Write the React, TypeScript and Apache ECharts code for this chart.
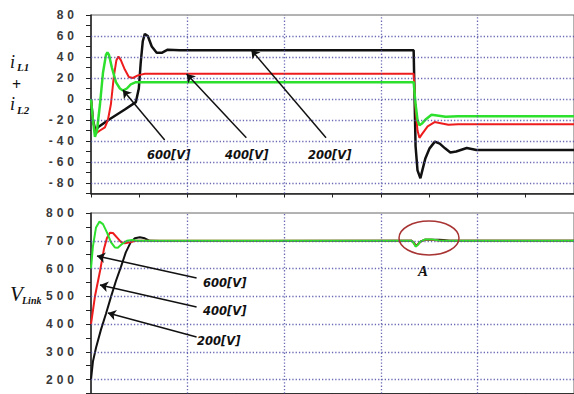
import React, { useEffect, useRef } from "react";
import * as echarts from "echarts";

// Shared time axis: five major divisions, half-division ticks
const T_MIN = 0;
const T_MAX = 5;

// Upper panel: iL1 + iL2 for three initial link voltages
const tI600 = [0, 0.02, 0.041, 0.062, 0.093, 0.124, 0.155, 0.17, 0.186, 0.216, 0.258, 0.299, 0.33, 0.371, 0.412, 0.464, 0.557, 3.34, 3.36, 3.38, 3.4, 3.43, 3.47, 3.525, 3.6, 3.67, 3.8, 5];
const iL600 = [0, -20, -36, -30, -5, 25, 42, 44.5, 42, 30, 16, 10, 8, 10, 14, 16, 16, 16, -5, -20, -25, -23, -19, -15, -16, -17, -16.5, -16.5];

const tI400 = [0, 0.02, 0.046, 0.093, 0.144, 0.175, 0.206, 0.237, 0.263, 0.284, 0.309, 0.35, 0.392, 0.433, 0.485, 0.557, 3.34, 3.36, 3.38, 3.4, 3.43, 3.485, 3.557, 3.62, 3.7, 3.8, 5];
const iL400 = [0, -20, -33, -30, -27, -20, -5, 22, 37, 40.5, 37, 28, 21, 20, 22.5, 24, 24, -10, -30, -37, -33, -26, -22, -23, -24.5, -24, -24];

const tI200 = [0, 0.02, 0.046, 0.072, 0.196, 0.35, 0.464, 0.495, 0.515, 0.536, 0.557, 0.588, 0.629, 0.68, 0.732, 0.794, 0.918, 3.34, 3.35, 3.36, 3.38, 3.41, 3.43, 3.46, 3.505, 3.56, 3.61, 3.665, 3.72, 3.78, 3.89, 3.99, 5];
const iL200 = [0, -20, -30, -27, -19, -10, -3, 10, 35, 55, 62, 60, 50, 44, 44, 47, 46.5, 46.5, 0, -45, -68, -75.5, -68, -57, -47, -40.6, -42.5, -47, -51, -50, -46.7, -48.5, -48.5];

// Lower panel: V_Link for the three starting voltages
const tV600 = [0, 0.02, 0.052, 0.088, 0.124, 0.165, 0.206, 0.247, 0.278, 0.32, 0.371, 0.423, 0.485, 3.32, 3.34, 3.36, 3.38, 3.41, 3.46, 3.525, 3.6, 3.67, 5];
const vL600 = [600, 680, 748, 769, 760, 730, 695, 676, 675, 688, 700, 703, 700, 700, 692, 679, 684, 697, 705, 705, 701, 700, 700];

const tV400 = [0, 0.041, 0.093, 0.134, 0.165, 0.196, 0.227, 0.268, 0.309, 0.35, 0.402, 0.464, 3.32, 3.34, 3.36, 3.38, 3.41, 3.46, 3.525, 3.6, 3.67, 5];
const vL400 = [400, 500, 590, 670, 710, 729, 728, 712, 696, 691, 695, 700, 700, 693, 681, 685, 697, 704, 704, 701, 700, 700];

const tV200 = [0, 0.02, 0.052, 0.103, 0.155, 0.206, 0.258, 0.309, 0.36, 0.412, 0.454, 0.505, 0.557, 0.608, 0.711, 3.32, 3.34, 3.36, 3.38, 3.41, 3.46, 3.525, 3.6, 3.65, 3.71, 5];
const vL200 = [200, 265, 315, 380, 437, 497, 555, 605, 658, 695, 709, 712.5, 709, 700, 699, 700, 694, 684, 686, 697, 704, 704, 703.5, 703, 700, 700];

// Axis ranges, tick steps and dotted grid positions
const iRange = [-90, 80];
const iStep = 10;
const iLabelStep = 20;
const iGrid = [-80, -60, -40, -20, 0, 20, 40, 60];
const vRange = [150, 800];
const vStep = 50;
const vLabelStep = 100;
const vGrid = [200, 300, 400, 500, 600, 700];
const tGrid = [1, 2, 3, 4];

// Annotation arrows (tail -> head), in data coordinates
const arrowLabels = ["600[V]", "400[V]", "200[V]"];
const iArrowTail = [[0.763, -39], [1.608, -37], [2.433, -37]];
const iArrowHead = [[0.33, 8.6], [0.99, 23.8], [1.66, 46.7]];
const vArrowTail = [[1.093, 566], [1.093, 461.5], [1.093, 353.5]];
const vArrowHead = [[0.062, 645], [0.093, 541], [0.175, 440]];

const zip = (t: number[], v: number[]) => t.map((x, i) => [x, v[i]]);
// tick labels are printed with wide gaps between characters
const spaced = (v: number) => String(v).split("").join("\u2004");

const GREEN = "#2ee02e";
const RED = "#ee1c1c";
const BLACK = "#111111";
const DOT = "#5050a8";
const AXIS = "#222222";

const labelFont = 'italic bold 11.5px "DejaVu Sans"';

function makeXAxis(gridIndex: number) {
  return {
    type: "value",
    gridIndex,
    min: T_MIN,
    max: T_MAX,
    interval: 0.5,
    axisLine: { show: true, onZero: false, lineStyle: { color: AXIS, width: 1.5 } },
    axisTick: { show: true, inside: false, length: 4, lineStyle: { color: AXIS, width: 1 } },
    axisLabel: { show: false },
    splitLine: { show: false },
  };
}

function makeYAxis(gridIndex: number, range: number[], step: number, labelStep: number) {
  return {
    type: "value",
    gridIndex,
    min: range[0],
    max: range[1],
    interval: step,
    axisLine: { show: true, onZero: false, lineStyle: { color: AXIS, width: 1.5 } },
    axisTick: { show: true, inside: false, length: 5, lineStyle: { color: AXIS, width: 1 } },
    axisLabel: {
      show: true,
      margin: 17,
      color: "#3a3a3a",
      fontFamily: "Liberation Sans",
      fontWeight: "bold",
      fontSize: 12,
      formatter: (v: number) => (Math.round(v) % labelStep === 0 ? spaced(Math.round(v)) : ""),
    },
    splitLine: { show: false },
  };
}

// Dotted grid drawn as mark lines of an otherwise empty series
function gridSeries(axisIndex: number, yValues: number[]) {
  return {
    type: "line",
    xAxisIndex: axisIndex,
    yAxisIndex: axisIndex,
    data: [],
    z: 1,
    silent: true,
    markLine: {
      silent: true,
      symbol: ["none", "none"],
      label: { show: false },
      emphasis: { disabled: true },
      lineStyle: { color: DOT, width: 1.3, type: [1.3, 2], opacity: 0.85 },
      data: [
        ...yValues.map((v) => ({ yAxis: v })),
        ...tGrid.map((t) => ({ xAxis: t })),
      ],
    },
  };
}

function arrowMarks(tails: number[][], heads: number[][]) {
  return {
    silent: true,
    symbol: ["none", "arrow"],
    symbolSize: 8,
    label: { show: false },
    emphasis: { disabled: true },
    lineStyle: { color: BLACK, width: 1.5, type: "solid" },
    data: tails.map((p, i) => [{ coord: p }, { coord: heads[i] }]),
  };
}

function line(x: number, y: number, data: number[][], color: string, width: number, extra: any = {}) {
  return {
    type: "line",
    xAxisIndex: x,
    yAxisIndex: y,
    data,
    z: 3,
    showSymbol: false,
    symbol: "none",
    lineStyle: { color, width },
    emphasis: { disabled: true },
    ...extra,
  };
}

function text(x: number, y: number, t: string, font: string, extra: any = {}) {
  return {
    type: "text",
    x,
    y,
    style: { text: t, font, fill: "#111", align: "left", verticalAlign: "middle", ...extra },
  };
}

export default function App() {
  const ref = useRef<HTMLDivElement>(null);

  useEffect(() => {
    if (!ref.current) return;
    const chart = echarts.init(ref.current, null, { renderer: "svg" });

    const serif = '"Liberation Serif"';
    const graphic = [
      // Upper panel axis title: iL1 + iL2
      text(10, 61.5, "i", `italic 18px ${serif}`),
      text(17, 67, "L1", `italic bold 11px ${serif}`),
      text(12, 84.5, "+", `bold 16px ${serif}`),
      text(10, 104, "i", `italic 18px ${serif}`),
      text(17, 109.5, "L2", `italic bold 11px ${serif}`),
      // Lower panel axis title: V_Link
      text(10, 294, "V", `italic 21px ${serif}`),
      text(22, 300, "Link", `italic bold 10px ${serif}`),
      // Arrow captions, upper panel
      text(147, 155, arrowLabels[0], labelFont),
      text(225, 155, arrowLabels[1], labelFont),
      text(308, 155, arrowLabels[2], labelFont),
      // Arrow captions, lower panel
      text(203, 283, arrowLabels[0], labelFont),
      text(203, 311, arrowLabels[1], labelFont),
      text(197, 341, arrowLabels[2], labelFont),
      // Highlight of the load-step disturbance
      {
        type: "ellipse",
        shape: { cx: 429, cy: 238, rx: 30, ry: 17 },
        style: { fill: "none", stroke: "#a83434", lineWidth: 1.5 },
        z: 100,
      },
      text(418, 271, "A", `italic bold 15px ${serif}`),
    ];

    chart.setOption({
      animation: false,
      backgroundColor: "#ffffff",
      grid: [
        { left: 91, top: 15, width: 485, height: 178.5, show: true, borderColor: "#666", borderWidth: 1 },
        { left: 91, top: 213, width: 485, height: 180.5, show: true, borderColor: "#666", borderWidth: 1 },
      ],
      xAxis: [makeXAxis(0), makeXAxis(1)],
      yAxis: [
        makeYAxis(0, iRange, iStep, iLabelStep),
        makeYAxis(1, vRange, vStep, vLabelStep),
      ],
      series: [
        gridSeries(0, iGrid),
        gridSeries(1, vGrid),
        line(0, 0, zip(tI200, iL200), BLACK, 2.5, { markLine: arrowMarks(iArrowTail, iArrowHead) }),
        line(0, 0, zip(tI400, iL400), RED, 2),
        line(0, 0, zip(tI600, iL600), GREEN, 2.5),
        line(1, 1, zip(tV200, vL200), BLACK, 2, { markLine: arrowMarks(vArrowTail, vArrowHead) }),
        line(1, 1, zip(tV400, vL400), RED, 2),
        line(1, 1, zip(tV600, vL600), GREEN, 2),
      ],
      graphic,
    });

    return () => chart.dispose();
  }, []);

  return (
    <div
      ref={ref}
      style={{ position: "absolute", left: 0, top: 0, width: 574, height: 394 }}
    />
  );
}
